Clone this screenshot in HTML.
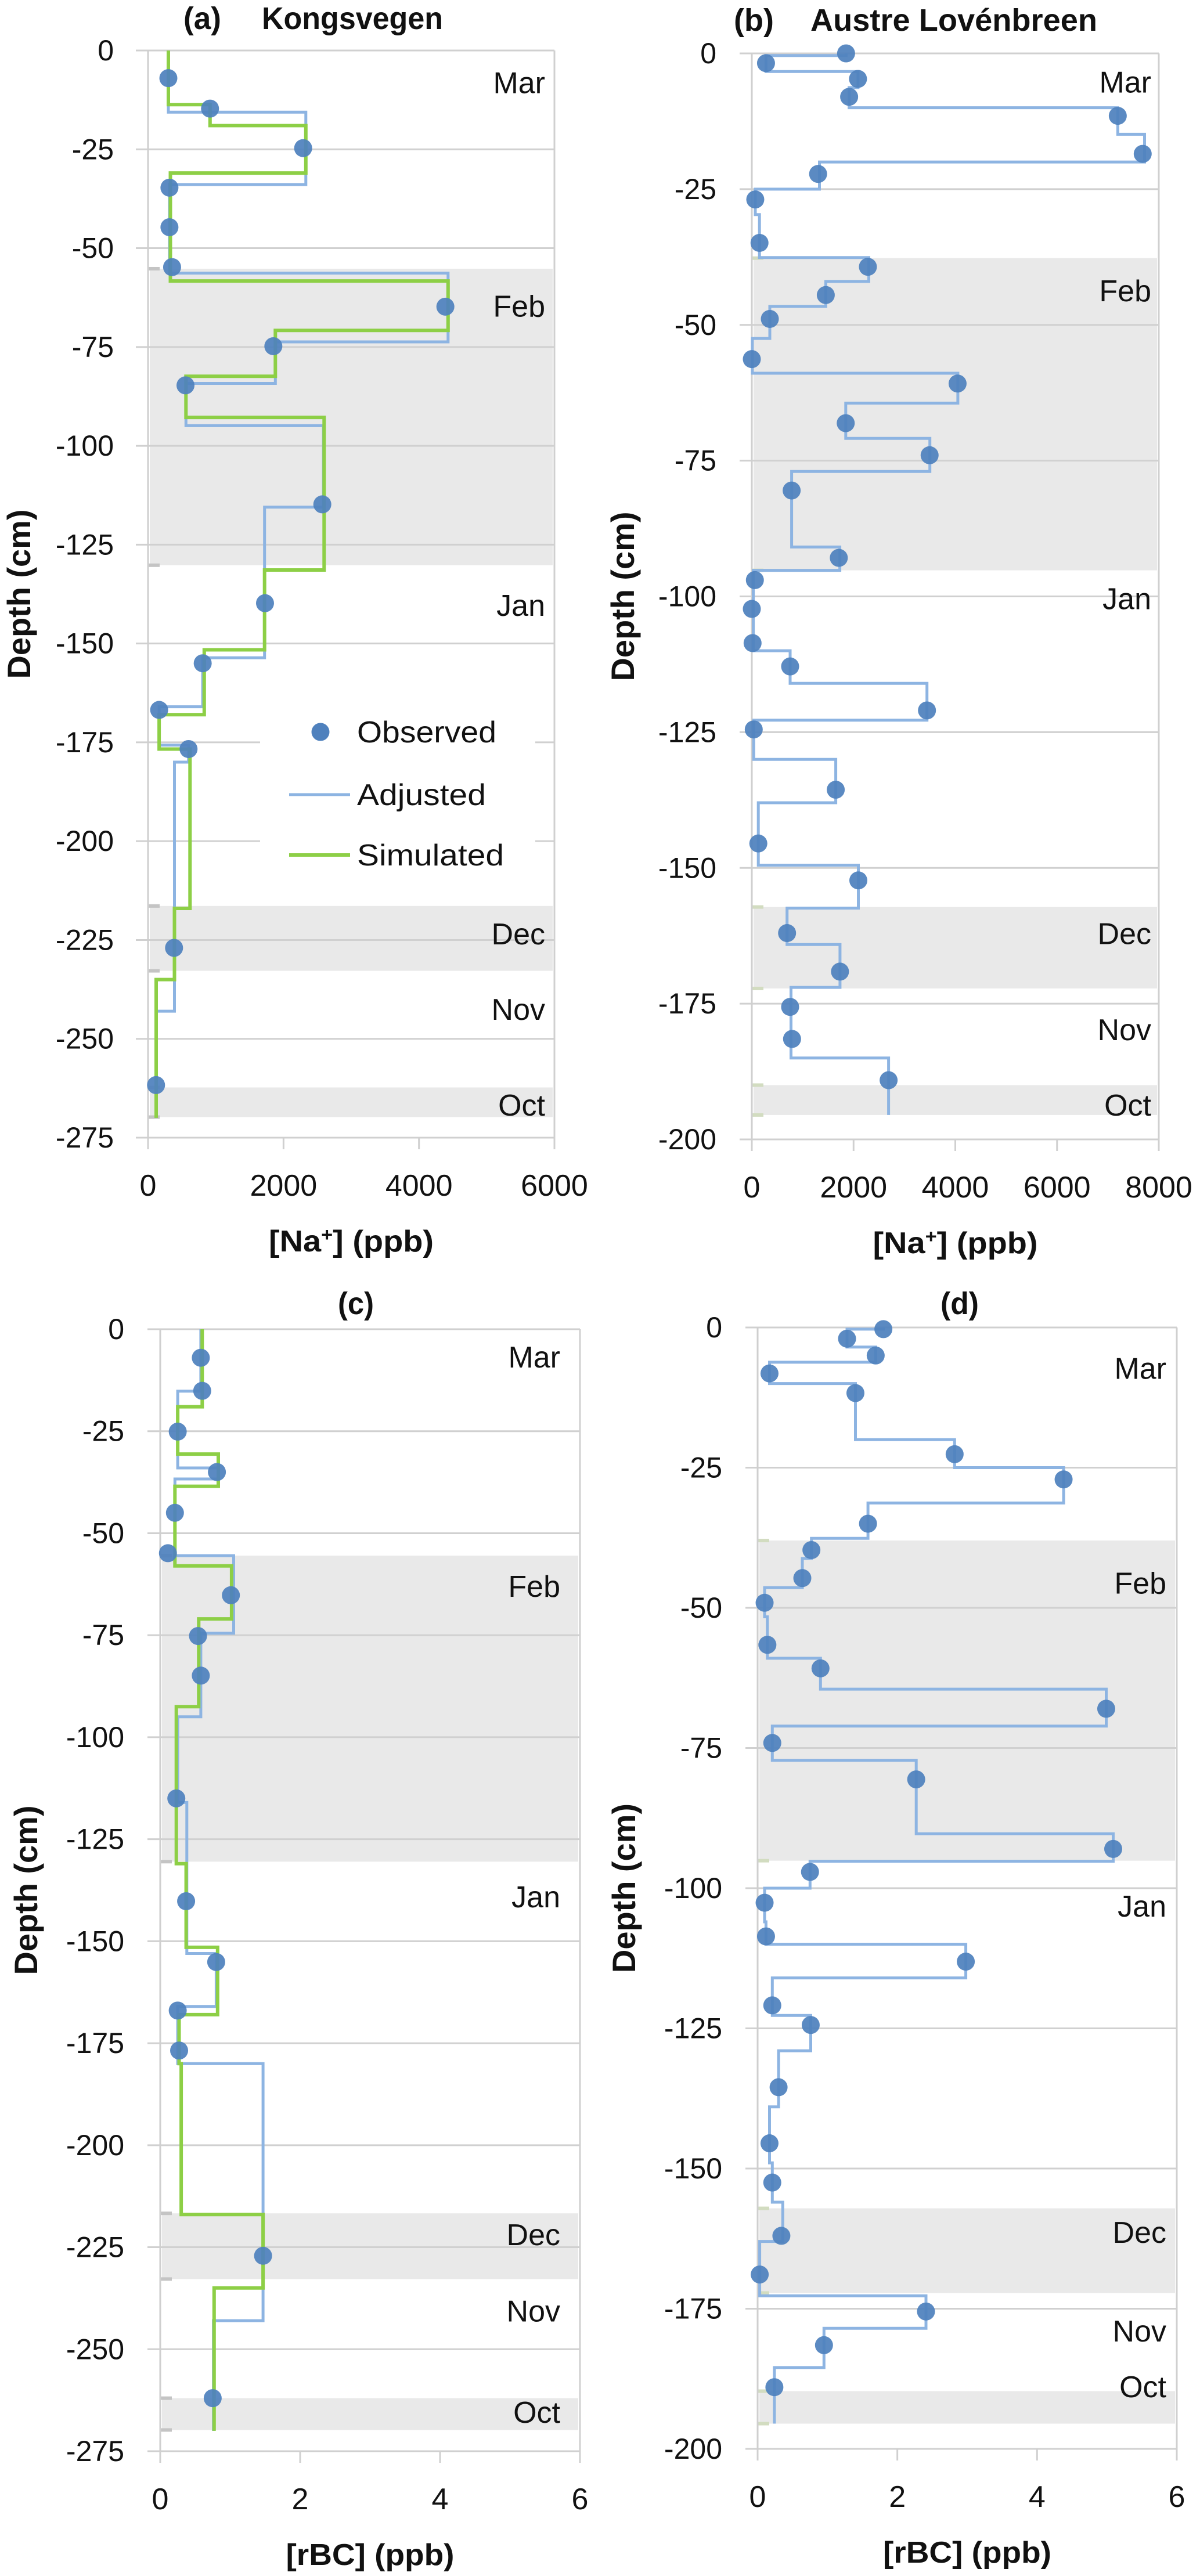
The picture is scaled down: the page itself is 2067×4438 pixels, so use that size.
<!DOCTYPE html>
<html><head><meta charset="utf-8"><title>Snow profiles</title>
<style>
html,body{margin:0;padding:0;background:#fff;}
svg{display:block;font-family:"Liberation Sans",sans-serif;}
</style></head>
<body>
<svg id="fig" width="2067" height="4438" viewBox="0 0 2067 4438" xmlns="http://www.w3.org/2000/svg"></svg>
<script>
// ---------- Panel (a) Kongsvegen Na+ ----------
const aObsDepth = [7,14.7,24.7,34.7,44.7,54.8,64.8,74.8,84.7,114.8,139.8,155,166.8,176.7,227,261.7];
const aObsVal   = [300,915,2290,316,316,355,4390,1850,553,2573,1727,807,164,598,384,118];
const aAdjBounds = [0,15.6,33.9,56.3,73.7,84.2,94.9,115.5,153.6,166,175.7,180,243,270];
const aAdjVals   = [300,2330,316,4430,1880,560,2590,1720,807,164,598,390,120];
const aSimBounds = [0,13.7,19,31,58.3,70.8,82.4,92.8,131.4,151.6,168,176.7,217,235,270];
const aSimVals   = [300,915,2330,330,4430,1880,560,2600,1720,830,164,620,390,120];
const aBands = [[55.2,130.2],[216.4,232.8],[262.3,269.8]];
const aMonths = ["Mar","Feb","Jan","Dec","Nov","Oct"];
const aMonthDepth = [8,64.5,140.2,223.3,242.4,266.6];
const aXTicks = [0,2000,4000,6000];

// ---------- Panel (b) Austre Lovénbreen Na+ ----------
const bObsDepth = [0,1.8,4.7,8,11.5,18.5,22.2,26.9,34.9,39.3,44.5,48.9,56.3,60.8,68.1,74,80.5,92.9,97,102.3,108.6,112.9,121,124.5,135.6,145.5,152.3,162,169.1,175.6,181.5,189.1];
const bObsVal   = [1853,279,2087,1913,7194,7684,1303,68,151,2282,1454,354,0,4045,1846,3495,783,1710,60,0,15,753,3443,38,1650,128,2094,693,1733,753,791,2689];
const bAdjBounds = [0,0.4,3.35,6.3,10,14.9,20,25,29.7,37.6,42,46.6,52.5,58.9,64.4,70.9,77,90.9,95.2,110,116,122.8,130,138,149.5,157.4,164.1,172,185,195.5];
const bAdjVals   = [1853,279,2087,1913,7194,7720,1330,68,151,2300,1454,354,10,4050,1846,3500,783,1730,30,753,3443,38,1650,128,2094,693,1733,770,2689];
const bBands = [[37.7,95.2],[157.2,172.2],[190,195.5]];
const bMonths = ["Mar","Feb","Jan","Dec","Nov","Oct"];
const bMonthDepth = [5.2,43.6,100.3,162,179.7,193.6];
const bXTicks = [0,2000,4000,6000,8000];

// ---------- Panel (c) Kongsvegen rBC ----------
const cObsDepth = [7,15.1,25.1,35,45,54.9,65.2,75.2,84.9,115,140.2,155.1,167,176.8,227.1,262];
const cObsVal   = [0.58,0.60,0.25,0.81,0.21,0.11,1.01,0.54,0.58,0.23,0.37,0.80,0.25,0.27,1.47,0.75];
const cAdjBounds = [0,15.2,34,36.7,55.5,74.5,95,116,153,166,180,243,270];
const cAdjVals   = [0.58,0.25,0.83,0.21,1.05,0.58,0.25,0.38,0.8,0.25,1.47,0.76];
const cSimBounds = [0,19,30.6,38.5,58,71,92.5,131,151.5,168,180,217,235,270];
const cSimVals   = [0.6,0.25,0.83,0.21,1.02,0.55,0.23,0.37,0.82,0.27,0.3,1.47,0.77];
const cBands = [[55.5,130.5],[216.7,232.8],[262,269.8]];
const cMonths = ["Mar","Feb","Jan","Dec","Nov","Oct"];
const cMonthDepth = [6.7,62.9,139,221.8,240.5,265.3];
const cXTicks = [0,2,4,6];

// ---------- Panel (d) Austre Lovénbreen rBC ----------
const dObsDepth = [0.3,2,5,8.2,11.7,22.6,27.1,35,39.7,44.7,49.1,56.6,60.8,68,74.1,80.6,93,97.1,102.6,108.6,113.1,120.9,124.4,135.5,145.5,152.5,162,168.9,175.5,181.5,189];
const dObsVal   = [1.80,1.28,1.69,0.17,1.40,2.82,4.38,1.58,0.77,0.64,0.10,0.14,0.90,4.99,0.21,2.27,5.09,0.75,0.10,0.12,2.98,0.21,0.76,0.30,0.17,0.21,0.34,0.03,2.41,0.95,0.24];
const dAdjBounds = [0,0.3,3.5,6.2,10,20,25,31.3,37.6,41.2,46.4,51.6,59,64.5,71.1,77.2,90.3,95.2,100,106,110,116,122.7,129,139,149,156,163,172.7,178.5,185.5,195.5];
const dAdjVals   = [1.8,1.28,1.69,0.17,1.40,2.82,4.38,1.58,0.77,0.64,0.1,0.14,0.9,4.99,0.21,2.27,5.09,0.75,0.1,0.12,2.98,0.21,0.76,0.3,0.17,0.21,0.36,0.03,2.41,0.95,0.24];
const dBands = [[38,95.1],[157.1,172.2],[189.7,195.5]];
const dMonths = ["Mar","Feb","Jan","Dec","Nov","Oct"];
const dMonthDepth = [7.2,45.5,103.1,161.3,178.9,188.8];
const dXTicks = [0,2,4,6];

const NS = "http://www.w3.org/2000/svg";
const svg = document.getElementById("fig");
function mk(tag, attrs, parent, txt){
  const e = document.createElementNS(NS, tag);
  for (const k in attrs) e.setAttribute(k, attrs[k]);
  if (txt !== undefined) e.textContent = txt;
  (parent || svg).appendChild(e);
  return e;
}
function stepPath(bounds, vals, X, Y){
  let d = "M" + X(vals[0]).toFixed(1) + "," + Y(bounds[0]).toFixed(1);
  for (let i = 0; i < vals.length; i++){
    if (i > 0) d += " H" + X(vals[i]).toFixed(1);
    d += " V" + Y(bounds[i+1]).toFixed(1);
  }
  return d;
}

function panel(p){
  const g = mk("g", {});
  
  
  const X = v => p.x0 + (v / p.xMax) * (p.x1 - p.x0);
  const Y = d => p.y0 + (d / p.yMax) * (p.y1 - p.y0);
  // bands
  p.bands.forEach(b => {
    const r = mk("rect", {x: p.x0 + 3, y: Y(b[0]), width: p.x1 - p.x0 - 6, height: Y(b[1]) - Y(b[0]), fill: "#e9e9e9"}, g);
    
    
    [b[0], b[1]].forEach(dd => {
      const m = mk("rect", {x: p.x0, y: Y(dd) - 3, width: 20, height: 6, fill: p.markCol}, g);
      
      
    });
  });
  // gridlines & y ticks
  for (let d = 0; d <= p.yMax + 0.01; d += 25){
    const l = mk("line", {x1: p.gx, x2: p.x1, y1: Y(d), y2: Y(d), stroke: "#d0d0d0", "stroke-width": 3}, g);
    
    
    const t = mk("text", {x: p.lblR, y: Y(d) + 17, "text-anchor": "end", "font-size": 50, fill: "#111"}, g, d === 0 ? "0" : "-" + d);
    
    
  }
  // axes
  const ax = mk("line", {x1: p.x0, x2: p.x0, y1: p.y0, y2: p.y1 + 20, stroke: "#cfcfcf", "stroke-width": 3}, g);
  
  
  const rb = mk("line", {x1: p.x1, x2: p.x1, y1: p.y0, y2: p.y1 + 20, stroke: "#d0d0d0", "stroke-width": 3}, g);
  
  
  p.xTicks.forEach(v => {
    const tl = mk("line", {x1: X(v), x2: X(v), y1: p.y1, y2: p.y1 + 20, stroke: "#d0d0d0", "stroke-width": 3}, g);
    
    
    const t = mk("text", {x: X(v), y: p.y1 + 100, "text-anchor": "middle", "font-size": 52, fill: "#111"}, g, String(v));
    
    
  });
  // legend background (panel a)
  if (p.legend){
    const lb = mk("rect", {x: 448, y: 1210, width: 474, height: 300, fill: "#fff"}, g);
    
    
  }
  // series
  const adj = mk("path", {d: stepPath(p.adjB, p.adjV, X, Y), fill: "none", stroke: "#8db4e2", "stroke-width": 5, "stroke-linejoin": "miter"}, g);
  
  
  if (p.simB){
    const sim = mk("path", {d: stepPath(p.simB, p.simV, X, Y), fill: "none", stroke: "#8dcf46", "stroke-width": 6}, g);
    
    
  }
  p.obsD.forEach((d, i) => {
    const c = mk("circle", {cx: X(p.obsV[i]), cy: Y(d), r: 15.5, fill: "#4f81bd", "fill-opacity": 0.93}, g);
    
    
  });
  // month labels
  p.months.forEach((m, i) => {
    const t = mk("text", {x: p.monR, y: Y(p.monD[i]) + 19, "text-anchor": "end", "font-size": 52, fill: "#111"}, g, m);
    
    
  });
  // axis titles
  const xt = mk("text", {x: (p.x0 + p.x1) / 2, y: p.y1 + 196, "text-anchor": "middle", "font-size": 52, "font-weight": "bold", fill: "#111", textLength: p.xtLen, lengthAdjust: "spacingAndGlyphs"}, g);
  
  
  mk("tspan", {}, xt, p.xLabel);
  const sup = mk("tspan", {"baseline-shift": "super", "font-size": 32}, xt, p.xSup);
  mk("tspan", {}, xt, p.xLabel2);
  const cy = (p.y0 + p.y1) / 2;
  const yt = mk("text", {x: 0, y: 0, transform: "translate(" + (p.ytX) + "," + cy + ") rotate(-90)", "text-anchor": "middle", "font-size": 56, "font-weight": "bold", fill: "#111", textLength: 292, lengthAdjust: "spacingAndGlyphs"}, g, "Depth (cm)");
  
  
  // titles
  p.titles.forEach(tt => {
    const t = mk("text", {x: tt[1], y: tt[2], "font-size": 54, "font-weight": "bold", fill: "#111", textLength: tt[3], lengthAdjust: "spacingAndGlyphs"}, g, tt[0]);
    
    
  });
  // legend
  if (p.legend){
    const ld = mk("circle", {cx: 552, cy: 1261, r: 15.5, fill: "#4f81bd"}, g);
    
    
    const la = mk("line", {x1: 498, x2: 603, y1: 1369, y2: 1369, stroke: "#8db4e2", "stroke-width": 5}, g);
    
    
    const ls = mk("line", {x1: 498, x2: 603, y1: 1473, y2: 1473, stroke: "#8dcf46", "stroke-width": 6}, g);
    
    
    [["Observed", 1279, 240], ["Adjusted", 1387, 222], ["Simulated", 1491, 253]].forEach(e => {
      const t = mk("text", {x: 615, y: e[1], "font-size": 52, fill: "#111", textLength: e[2], lengthAdjust: "spacingAndGlyphs"}, g, e[0]);
      
      
    });
  }
}

panel({name: "panel-a-kongsvegen-na", x0: 255, x1: 955, xMax: 6000, y0: 87, y1: 1960, yMax: 275, gx: 234, lblR: 196, monR: 939, ytX: 52,
  bands: aBands, markCol: "#c4c4c4", xTicks: aXTicks, adjB: aAdjBounds, adjV: aAdjVals, simB: aSimBounds, simV: aSimVals,
  obsD: aObsDepth, obsV: aObsVal, months: aMonths, monD: aMonthDepth, xLabel: "[Na", xSup: "+", xLabel2: "] (ppb)", xtLen: 284,
  titles: [["(a)", 316, 50, 65], ["Kongsvegen", 451, 50, 312]], legend: true});
panel({name: "panel-b-austre-lovenbreen-na", x0: 1295, x1: 1996, xMax: 8000, y0: 92, y1: 1963, yMax: 200, gx: 1274, lblR: 1234, monR: 1983, ytX: 1092,
  bands: bBands, markCol: "#d2dcc0", xTicks: bXTicks, adjB: bAdjBounds, adjV: bAdjVals, simB: null, simV: null,
  obsD: bObsDepth, obsV: bObsVal, months: bMonths, monD: bMonthDepth, xLabel: "[Na", xSup: "+", xLabel2: "] (ppb)", xtLen: 284,
  titles: [["(b)", 1264, 53, 69], ["Austre Lovénbreen", 1396, 53, 494]], legend: false});
panel({name: "panel-c-kongsvegen-rbc", x0: 276, x1: 999, xMax: 6, y0: 2290, y1: 4223, yMax: 275, gx: 254, lblR: 214, monR: 965, ytX: 64,
  bands: cBands, markCol: "#c4c4c4", xTicks: cXTicks, adjB: cAdjBounds, adjV: cAdjVals, simB: cSimBounds, simV: cSimVals,
  obsD: cObsDepth, obsV: cObsVal, months: cMonths, monD: cMonthDepth, xLabel: "[rBC] (ppb)", xSup: "", xLabel2: "", xtLen: 290,
  titles: [["(c)", 582, 2264, 62]], legend: false});
panel({name: "panel-d-austre-lovenbreen-rbc", x0: 1305, x1: 2027, xMax: 6, y0: 2287, y1: 4219, yMax: 200, gx: 1284, lblR: 1244, monR: 2009, ytX: 1094,
  bands: dBands, markCol: "#d2dcc0", xTicks: dXTicks, adjB: dAdjBounds, adjV: dAdjVals, simB: null, simV: null,
  obsD: dObsDepth, obsV: dObsVal, months: dMonths, monD: dMonthDepth, xLabel: "[rBC] (ppb)", xSup: "", xLabel2: "", xtLen: 290,
  titles: [["(d)", 1620, 2264, 66]], legend: false});
</script>
</body></html>
